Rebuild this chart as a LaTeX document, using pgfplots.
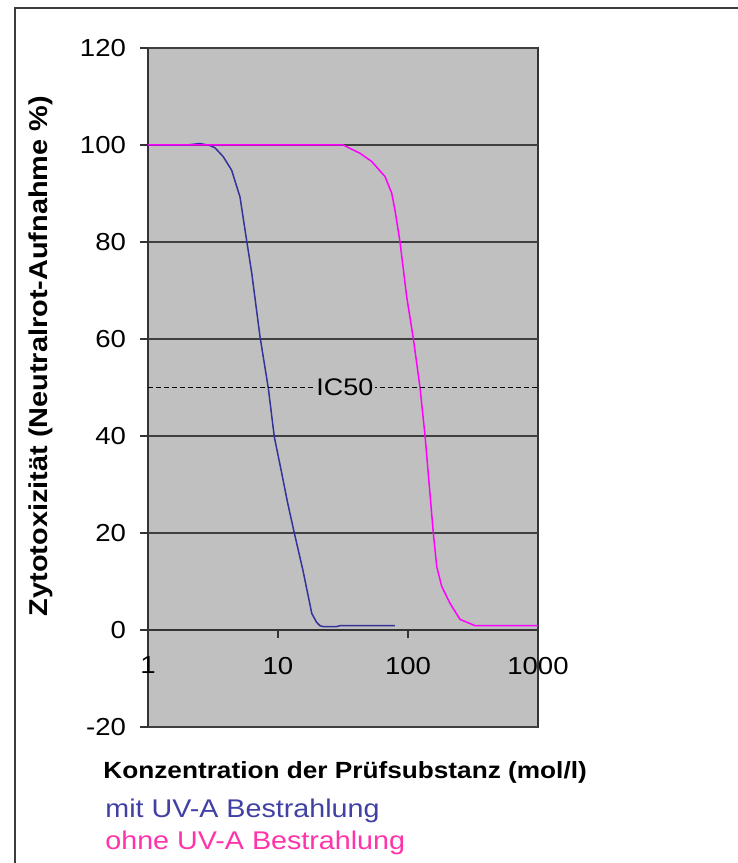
\documentclass[border=0pt]{standalone}
\usepackage{fontspec}
\setmainfont{Liberation Sans}[FakeStretch=1.12]
\usepackage{pgfplots}
\pgfplotsset{compat=1.18}
\definecolor{bg}{RGB}{192,192,192}
\definecolor{uvblue}{RGB}{51,51,153}
\definecolor{uvmag}{RGB}{255,0,255}
\definecolor{txtblue}{RGB}{64,64,165}
\definecolor{txtpink}{RGB}{255,51,170}
\definecolor{framec}{RGB}{60,60,60}
\begin{document}
\begin{tikzpicture}
\begin{scope}[x=0.5pt,y=0.5pt]
\path[use as bounding box] (0,0) rectangle (738,863);
\draw[framec, line width=1pt] (15,0) -- (15,855) -- (738,855);
\end{scope}
\begin{axis}[
  at={(74pt,68pt)}, anchor=south west, scale only axis,
  width=195pt, height=339.5pt,
  xmode=log, xmin=1, xmax=1000, ymin=-20, ymax=120,
  axis x line*=middle, axis y line*=left,
  hide obscured x ticks=false,
  axis background/.style={fill=bg, draw=black!80, line width=1pt},
  axis line style={black!80, line width=1pt},
  xtick={1,10,100,1000}, xticklabels={1,10,100,1000},
  xminorticks=false,
  ytick={-20,0,20,40,60,80,100,120},
  ymajorgrids, grid style={black!75, line width=0.9pt},
  tick style={black!80, line width=0.9pt},
  tick align=outside, major tick length=4pt,
  /pgf/number format/assume math mode=true,
  tick label style={font=\fontsize{12.3}{14}\selectfont},
  xticklabel style={yshift=-6pt},
  yticklabel style={xshift=-3.5pt},
  clip=false,
]
\addplot[uvblue, line width=0.75pt] coordinates {
(1,100) (2.0,100) (2.51,100.3) (3.0,99.9) (3.28,99.4) (3.79,97.6) (4.4,94.8)
(5.1,89.3) (5.74,80.3) (6.28,73.6) (7.27,60.5) (8.42,49.9) (9.37,39.8)
(10.67,32.4) (11.8,26.5) (13.35,20) (15.5,12.5) (18.2,3.4) (19.8,1.6)
(21,0.9) (22.2,0.7) (28.3,0.7) (30,0.9) (79.4,0.9)};
\addplot[uvmag, line width=0.75pt] coordinates {
(1,100) (31.8,100) (35.8,99.3) (42.7,98.3) (52.6,96.6) (66.5,93.5)
(74.9,90.1) (79.4,86.6) (86.8,80) (97.7,68.7) (109.9,60.1) (123.7,50)
(135.2,40.1) (156.6,20) (166.3,13.1) (181.6,9.0) (210.4,5.5) (251,2.2)
(327.6,0.9) (1000,0.9)};
\addplot[black, line width=0.8pt, dash pattern=on 2.5pt off 1.5pt] coordinates {(1,50) (1000,50)};
\node[fill=bg, inner sep=1pt, font=\fontsize{12}{13}\selectfont] at (axis cs:32.7,50) {IC50};
\end{axis}
\begin{scope}[x=0.5pt,y=0.5pt]
\node[rotate=90, font=\bfseries\fontsize{12.9}{14}\selectfont] at (41,507) {Zytotoxizität (Neutralrot-Aufnahme \%)};
\node[anchor=base west, inner sep=0pt, font=\bfseries\fontsize{11.7}{13}\selectfont] at (103,84) {Konzentration der Prüfsubstanz (mol/l)};
\node[anchor=base west, inner sep=0pt, text=txtblue, font=\fontsize{12.8}{14}\selectfont] at (105,46) {mit UV-A Bestrahlung};
\node[anchor=base west, inner sep=0pt, text=txtpink, font=\fontsize{12.8}{14}\selectfont] at (105,13) {ohne UV-A Bestrahlung};
\end{scope}
\end{tikzpicture}
\end{document}
